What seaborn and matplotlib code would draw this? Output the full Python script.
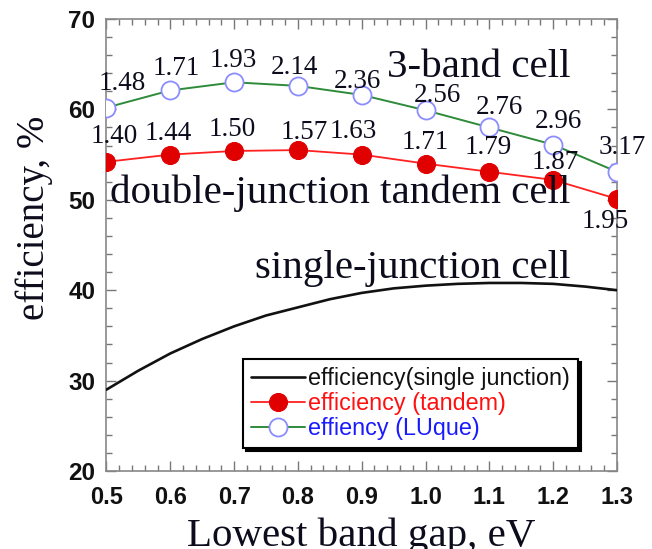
import numpy as np
import pandas as pd
import matplotlib
matplotlib.use("Agg")
import matplotlib.pyplot as plt
from matplotlib.ticker import MultipleLocator
import seaborn as sns

# Band-gap axis (eV) for the marked series
gap = [0.5, 0.6, 0.7, 0.8, 0.9, 1.0, 1.1, 1.2, 1.3]
# Efficiency (%) of the double-junction tandem cell
tandem = [54.2, 55.0, 55.4, 55.5, 55.0, 54.0, 53.1, 52.2, 50.1]
# Efficiency (%) of the 3-band (intermediate band, Luque) cell
luque = [60.2, 62.1, 63.0, 62.6, 61.6, 59.9, 58.0, 56.1, 53.1]
# Top-cell band gaps printed next to each marker
tandem_top_gap = ["1.40", "1.44", "1.50", "1.57", "1.63", "1.71", "1.79", "1.87", "1.95"]
luque_top_gap = ["1.48", "1.71", "1.93", "2.14", "2.36", "2.56", "2.76", "2.96", "3.17"]

# Single-junction efficiency curve
single_gap = [0.50, 0.55, 0.60, 0.65, 0.70, 0.75, 0.80, 0.85, 0.90,
              0.95, 1.00, 1.05, 1.10, 1.15, 1.20, 1.25, 1.30]
single_eff = [29.0, 31.1, 33.0, 34.6, 36.0, 37.2, 38.1, 39.0, 39.7,
              40.2, 40.5, 40.7, 40.8, 40.8, 40.7, 40.4, 40.0]

x_ticks = [0.5, 0.6, 0.7, 0.8, 0.9, 1.0, 1.1, 1.2, 1.3]
x_ticklabels = ["0.5", "0.6", "0.7", "0.8", "0.9", "1.0", "1.1", "1.2", "1.3"]
y_ticks = [20, 30, 40, 50, 60, 70]

sns.set_theme(style="ticks")
plt.rcParams["font.family"] = ["Liberation Sans", "DejaVu Sans"]

SERIF = ["Liberation Serif", "DejaVu Serif"]
INK = "#0c0c1c"

fig = plt.figure(figsize=(6.52, 5.49), dpi=100)
ax = fig.add_axes([0.1633, 0.1421, 0.7830, 0.8233])

single_df = pd.DataFrame({"gap": single_gap, "eff": single_eff})
tandem_df = pd.DataFrame({"gap": gap, "eff": tandem})
luque_df = pd.DataFrame({"gap": gap, "eff": luque})

sns.lineplot(data=single_df, x="gap", y="eff", ax=ax, color="#111111",
             linewidth=1.9, label="efficiency(single junction)", zorder=3)
sns.lineplot(data=tandem_df, x="gap", y="eff", ax=ax, color="#ff2020",
             linewidth=1.3, marker="o", markersize=13,
             markerfacecolor="#e00000", markeredgecolor="#e00000",
             label="efficiency (tandem)", zorder=4)
sns.lineplot(data=luque_df, x="gap", y="eff", ax=ax, color="#2e8b3a",
             linewidth=1.4, marker="o", markersize=13,
             markerfacecolor="white", markeredgecolor="#8c8cff",
             markeredgewidth=1.3, label="effiency (LUque)", zorder=4)

# Top-cell band gap labels (offsets in pixels from each marker)
luque_offsets = [(16, 24), (6, 22), (-1, 22), (-3, 18), (-4, 13),
                 (12, 15), (10, 20), (5, 23), (5, 24)]
tandem_offsets = [(8, 25), (-2, 21), (-2, 21), (6, 18), (-8, 23),
                  (0, 21), (-1, 24), (2, 17), (-12, -23)]
for xv, yv, txt, off in zip(gap, luque, luque_top_gap, luque_offsets):
    ax.annotate(txt, xy=(xv, yv), xytext=off, textcoords="offset pixels",
                ha="center", va="center", fontsize=19.5, family=SERIF,
                color=INK, zorder=6, annotation_clip=False)
for xv, yv, txt, off in zip(gap, tandem, tandem_top_gap, tandem_offsets):
    ax.annotate(txt, xy=(xv, yv), xytext=off, textcoords="offset pixels",
                ha="center", va="center", fontsize=19.5, family=SERIF,
                color=INK, zorder=6, annotation_clip=False)

# Curve names
ax.text(1.227, 63.6, "3-band cell", ha="right", va="baseline", fontsize=29.5,
        family=SERIF, color=INK, zorder=5)
ax.text(1.227, 49.6, "double-junction tandem cell", ha="right", va="baseline",
        fontsize=29.5, family=SERIF, color=INK, zorder=5)
ax.text(1.227, 41.35, "single-junction cell", ha="right", va="baseline",
        fontsize=29.5, family=SERIF, color=INK, zorder=5)

ax.set_xlim(0.5, 1.3)
ax.set_ylim(20, 70)
ax.set_xticks(x_ticks)
ax.set_xticklabels(x_ticklabels)
ax.set_yticks(y_ticks)
ax.xaxis.set_minor_locator(MultipleLocator(0.02))
ax.yaxis.set_minor_locator(MultipleLocator(2))
ax.tick_params(which="both", direction="in", top=True, right=True,
               color="#777777", width=1.0)
ax.tick_params(which="major", length=7)
ax.tick_params(which="minor", length=4)
ax.tick_params(axis="x", which="major", pad=11, labelsize=17)
ax.tick_params(axis="y", which="major", pad=8, labelsize=17.5)
for lab in ax.get_xticklabels() + ax.get_yticklabels():
    lab.set_fontweight("bold")
    lab.set_color("#111111")
for sp in ax.spines.values():
    sp.set_visible(True)
    sp.set_color("#888888")
    sp.set_linewidth(1.2)

ax.set_xlabel("Lowest band gap, eV", fontsize=29.5, family=SERIF, color=INK)
ax.xaxis.set_label_coords(0.5, -0.145)
ax.xaxis.label.set_va("center")
ax.set_ylabel("efficiency, %", fontsize=28, family=SERIF, color=INK)
ax.yaxis.set_label_coords(-0.105, 0.56)

leg = ax.legend(loc="upper left", bbox_to_anchor=(0.267, 0.248),
                borderaxespad=0, fancybox=False, frameon=True,
                edgecolor="black", framealpha=1, fontsize=16.8,
                labelspacing=0.08, handlelength=2.3, handletextpad=0.15,
                borderpad=0.35,
                shadow={"color": "black", "alpha": 1.0})
leg.get_frame().set_linewidth(1.5)
for txt, col in zip(leg.get_texts(), ["#111111", "#ff1010", "#1a1aff"]):
    txt.set_color(col)
leg.set_zorder(7)

fig.savefig("out.png", dpi=100)
